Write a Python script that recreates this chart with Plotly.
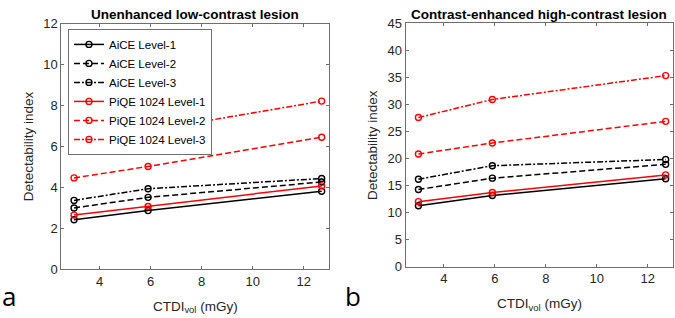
import plotly.graph_objects as go

ctdi = [3.0, 5.9, 12.7]

series_names = ["AiCE Level-1", "AiCE Level-2", "AiCE Level-3",
                "PiQE 1024 Level-1", "PiQE 1024 Level-2", "PiQE 1024 Level-3"]

low_aice_1 = [2.41, 2.86, 3.81]
low_aice_2 = [2.99, 3.51, 4.26]
low_aice_3 = [3.36, 3.93, 4.43]
low_piqe_1 = [2.64, 3.06, 4.07]
low_piqe_2 = [4.46, 5.02, 6.45]
low_piqe_3 = [5.96, 6.76, 8.22]

high_aice_1 = [11.3, 13.2, 16.3]
high_aice_2 = [14.3, 16.4, 18.95]
high_aice_3 = [16.2, 18.7, 19.85]
high_piqe_1 = [12.05, 13.75, 17.0]
high_piqe_2 = [20.86, 22.9, 26.9]
high_piqe_3 = [27.6, 30.95, 35.36]

low_vals = [low_aice_1, low_aice_2, low_aice_3, low_piqe_1, low_piqe_2, low_piqe_3]
high_vals = [high_aice_1, high_aice_2, high_aice_3, high_piqe_1, high_piqe_2, high_piqe_3]

colors = ["black", "black", "black", "#ff0000", "#ff0000", "#ff0000"]
dashes = ["solid", "6px,3px", "6px,2px,2px,2px", "solid", "6px,3px", "6px,2px,2px,2px"]

FONT = "Arial, Liberation Sans, sans-serif"

fig = go.Figure()
for i, name in enumerate(series_names):
    fig.add_trace(go.Scatter(
        x=ctdi, y=low_vals[i], name=name, mode="lines+markers",
        line=dict(color=colors[i], width=1.5, dash=dashes[i]),
        marker=dict(symbol="circle-open", size=6, color=colors[i], line=dict(width=1.4)),
        xaxis="x", yaxis="y", showlegend=True))
for i, name in enumerate(series_names):
    fig.add_trace(go.Scatter(
        x=ctdi, y=high_vals[i], name=name, mode="lines+markers",
        line=dict(color=colors[i], width=1.5, dash=dashes[i]),
        marker=dict(symbol="circle-open", size=6, color=colors[i], line=dict(width=1.4)),
        xaxis="x2", yaxis="y2", showlegend=False))

axis_common = dict(showline=True, linecolor="#6e6e6e", linewidth=1, mirror="ticks",
                   ticks="inside", ticklen=3, tickcolor="#6e6e6e", showgrid=False,
                   zeroline=False, tickfont=dict(family=FONT, size=13, color="#262626"))

fig.update_layout(
    width=675, height=318,
    margin=dict(l=0, r=0, t=0, b=0),
    paper_bgcolor="white", plot_bgcolor="white",
    font=dict(family=FONT, color="#262626"),
    xaxis=dict(domain=[0.0908, 0.4879], range=[2.5, 13], tickvals=[4, 6, 8, 10, 12],
               title=dict(text="CTDI<sub>vol</sub> (mGy)", font=dict(size=13.5), standoff=13),
               anchor="y", **axis_common),
    yaxis=dict(domain=[0.1352, 0.9443], range=[0, 12], tickvals=[0, 2, 4, 6, 8, 10, 12],
               title=dict(text="Detectability index", font=dict(size=13.5), standoff=6),
               anchor="x", **axis_common),
    xaxis2=dict(domain=[0.601, 0.9975], range=[2.5, 13], tickvals=[4, 6, 8, 10, 12],
                title=dict(text="CTDI<sub>vol</sub> (mGy)", font=dict(size=13.5), standoff=13),
                anchor="y2", **axis_common),
    yaxis2=dict(domain=[0.1425, 0.9456], range=[0, 45], tickvals=[0, 5, 10, 15, 20, 25, 30, 35, 40, 45],
                title=dict(text="Detectability index", font=dict(size=13.5), standoff=6),
                anchor="x2", **axis_common),
    legend=dict(x=0.1007, y=1 - 23 / 318, xanchor="left", yanchor="top",
                bgcolor="white", bordercolor="#6e6e6e", borderwidth=1,
                font=dict(family=FONT, size=11.5, color="black"),
                tracegroupgap=0, itemwidth=30),
    annotations=[
        dict(text="<b>Unenhanced low-contrast lesion</b>", x=(0.0908 + 0.4879) / 2, y=1 - 8 / 318,
             xref="paper", yref="paper", showarrow=False, xanchor="center", yanchor="middle",
             font=dict(family=FONT, size=13.5, color="black")),
        dict(text="<b>Contrast-enhanced high-contrast lesion</b>", x=(0.601 + 0.9975) / 2, y=1 - 8 / 318,
             xref="paper", yref="paper", showarrow=False, xanchor="center", yanchor="middle",
             font=dict(family=FONT, size=13.5, color="black")),
        dict(text="a", x=0, y=1 - 303 / 318, xref="paper", yref="paper", showarrow=False,
             xanchor="left", yanchor="middle", font=dict(family="Open Sans, sans-serif", size=26, color="black")),
        dict(text="b", x=343 / 675, y=1 - 303 / 318, xref="paper", yref="paper", showarrow=False,
             xanchor="left", yanchor="middle", font=dict(family="Open Sans, sans-serif", size=26, color="black")),
    ],
)

fig.write_html("out.html")
